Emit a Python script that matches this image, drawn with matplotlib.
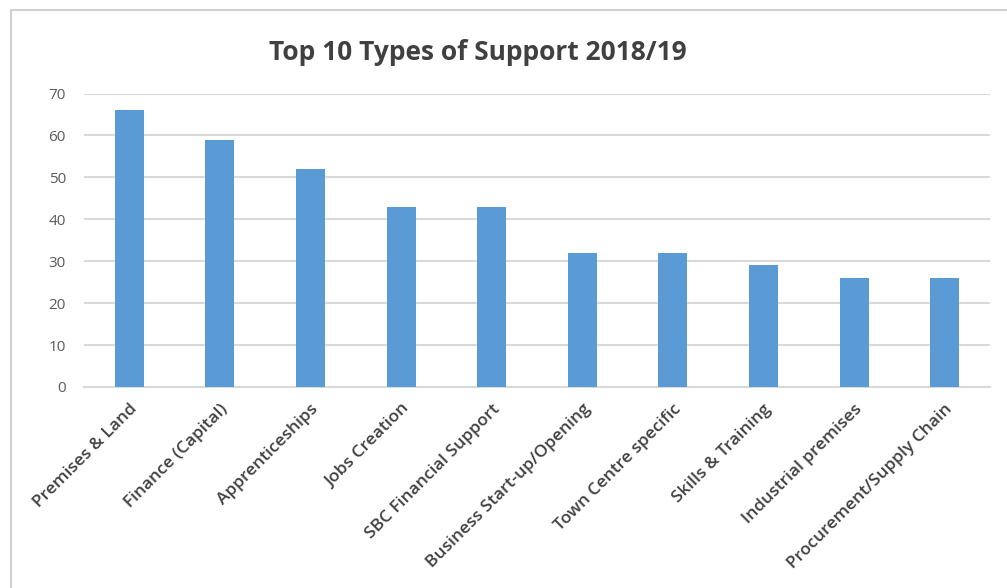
import matplotlib
matplotlib.use("Agg")
import matplotlib.pyplot as plt
from matplotlib.patches import Rectangle

categories = ["Premises & Land", "Finance (Capital)", "Apprenticeships", "Jobs Creation",
              "SBC Financial Support", "Business Start-up/Opening", "Town Centre specific",
              "Skills & Training", "Industrial premises", "Procurement/Supply Chain"]
values = [66, 59, 52, 43, 43, 32, 32, 29, 26, 26]
y_ticks = [0, 10, 20, 30, 40, 50, 60, 70]

plt.rcParams["font.family"] = ["Open Sans", "DejaVu Sans"]

fig = plt.figure(figsize=(10.07, 5.88), dpi=100)
fig.patches.append(Rectangle((11 / 1007, -0.1), 1.2, 1 - 10 / 588 + 0.1,
                             transform=fig.transFigure, fill=False,
                             edgecolor="#D0D0D0", linewidth=1.5))

ax = fig.add_axes([84 / 1007, 1 - 387 / 588, (990 - 84) / 1007, (387 - 93.5) / 588])
x = range(len(categories))
ax.bar(x, values, width=0.32, color="#5B9BD5", zorder=3)

ax.set_xlim(-0.5, len(categories) - 0.5)
ax.set_ylim(0, 70)
ax.set_yticks(y_ticks)
ax.set_yticklabels([str(t) for t in y_ticks], color="#595959", fontsize=11)
ax.set_xticks(list(x))
ax.set_xticklabels(categories, rotation=45, ha="right", rotation_mode="anchor",
                   color="#404040", fontsize=12.5, fontweight="semibold")
ax.tick_params(axis="both", length=0)
ax.tick_params(axis="y", pad=13)
ax.tick_params(axis="x", pad=10)
ax.grid(axis="y", color="#D9D9D9", linewidth=1.5, zorder=0)
for s in ["top", "right", "left"]:
    ax.spines[s].set_visible(False)
ax.spines["bottom"].set_color("#D9D9D9")
ax.spines["bottom"].set_linewidth(1.5)

fig.text(478 / 1007, 1 - 52 / 588, "Top 10 Types of Support 2018/19", ha="center", va="center",
         fontsize=19, fontweight="bold", color="#404040")

fig.savefig("out.png", dpi=100)
